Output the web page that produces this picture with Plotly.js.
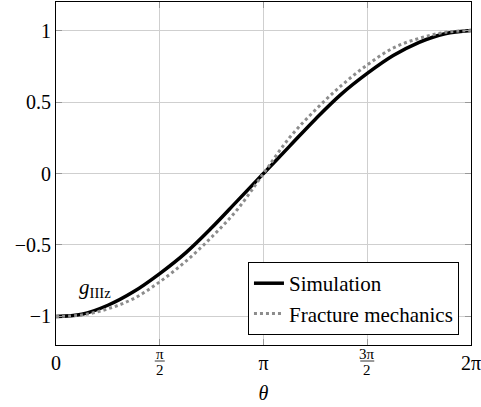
<!DOCTYPE html>
<html>
<head>
<meta charset="utf-8">
<script src="https://cdn.plot.ly/plotly-3.0.1.min.js"></script>
<style>html,body{margin:0;padding:0;background:#fff;}#chart{width:481px;height:407px;}</style>
</head>
<body>
<div id="chart"></div>
<script>
// theta in units of pi
const theta = [0, 0.125, 0.25, 0.375, 0.5, 0.625, 0.75, 0.875, 1, 1.125, 1.25, 1.375, 1.5, 1.625, 1.75, 1.875, 2];
const simulation = [-1, -0.985, -0.922, -0.826, -0.70, -0.555, -0.38, -0.19, 0, 0.19, 0.38, 0.555, 0.70, 0.825, 0.918, 0.978, 1];
const fracture = [-1, -0.99, -0.947, -0.875, -0.758, -0.615, -0.445, -0.25, 0, 0.25, 0.445, 0.615, 0.76, 0.878, 0.946, 0.988, 1];
const xTickVals = [0, 1, 2];
const xTickText = ['0', 'π', '2π'];
const fracTickVals = [0.5, 1.5];
const fracNumerators = ['π', '3π'];
const fracDenominators = ['2', '2'];
const yTickVals = [-1, -0.5, 0, 0.5, 1];
const seriesNames = ['Simulation', 'Fracture mechanics'];
const curveLabel = '<i>g</i><sub>IIIz</sub>';

const FONT = '"Liberation Serif", "DejaVu Serif", serif';

const traces = [
  {x: theta, y: simulation, name: seriesNames[0], mode: 'lines', type: 'scatter',
   line: {color: '#000', width: 3.5, shape: 'spline', smoothing: 1}},
  {x: theta, y: fracture, name: seriesNames[1], mode: 'lines', type: 'scatter',
   line: {color: '#8c8c8c', width: 3, dash: 'dot', shape: 'spline', smoothing: 1}}
];

const annotations = [{x: 0.19, y: -0.8, xref: 'x', yref: 'y', text: curveLabel,
    showarrow: false, font: {family: FONT, size: 21, color: '#000'}}];
const shapes = [];
fracTickVals.forEach((v, i) => {
  annotations.push({
    x: v, y: 0, xref: 'x', yref: 'paper', yanchor: 'top', yshift: 1,
    text: fracNumerators[i], showarrow: false,
    font: {family: FONT, size: 15, color: '#000'}
  });
  annotations.push({
    x: v, y: 0, xref: 'x', yref: 'paper', yanchor: 'top', yshift: -15,
    text: fracDenominators[i], showarrow: false,
    font: {family: FONT, size: 15, color: '#000'}
  });
  const half = fracNumerators[i].length > 1 ? 7 : 5;
  shapes.push({
    type: 'line', xref: 'x', yref: 'paper',
    xsizemode: 'pixel', xanchor: v, x0: -half, x1: half,
    ysizemode: 'pixel', yanchor: 0, y0: -16, y1: -16,
    line: {color: '#000', width: 0.8}
  });
});

const layout = {
  width: 481, height: 407,
  margin: {l: 56, r: 10, t: 2, b: 62},
  paper_bgcolor: '#fff', plot_bgcolor: '#fff',
  font: {family: FONT, size: 20, color: '#000'},
  showlegend: true,
  legend: {x: 0.971, y: 0.029, xanchor: 'right', yanchor: 'bottom',
    bgcolor: '#fff', bordercolor: '#000', borderwidth: 1,
    font: {family: FONT, size: 21, color: '#000'}},
  xaxis: {range: [0, 2], tickvals: xTickVals, ticktext: xTickText,
    ticklabeloverflow: 'allow',
    showgrid: true, gridcolor: '#cfcfcf', gridwidth: 1, zeroline: false,
    showline: true, linecolor: '#000', linewidth: 1, mirror: 'ticks',
    ticks: 'inside', ticklen: 6, tickcolor: '#999', tickwidth: 1,
    minor: {tickvals: fracTickVals, showgrid: true, gridcolor: '#cfcfcf', gridwidth: 1,
      ticks: 'inside', ticklen: 6, tickcolor: '#999', tickwidth: 1},
    tickfont: {family: FONT, size: 20},
    title: {text: '<i>θ</i>', font: {family: FONT, size: 20}, standoff: 12}},
  yaxis: {range: [-1.2, 1.2], tickvals: yTickVals,
    ticklabeloverflow: 'allow',
    showgrid: true, gridcolor: '#cfcfcf', gridwidth: 1, zeroline: false,
    showline: true, linecolor: '#000', linewidth: 1, mirror: 'ticks',
    ticks: 'inside', ticklen: 6, tickcolor: '#999', tickwidth: 1,
    tickfont: {family: FONT, size: 20}},
  annotations: annotations,
  shapes: shapes
};

Plotly.newPlot('chart', traces, layout, {staticPlot: true, displayModeBar: false});
</script>
</body>
</html>
